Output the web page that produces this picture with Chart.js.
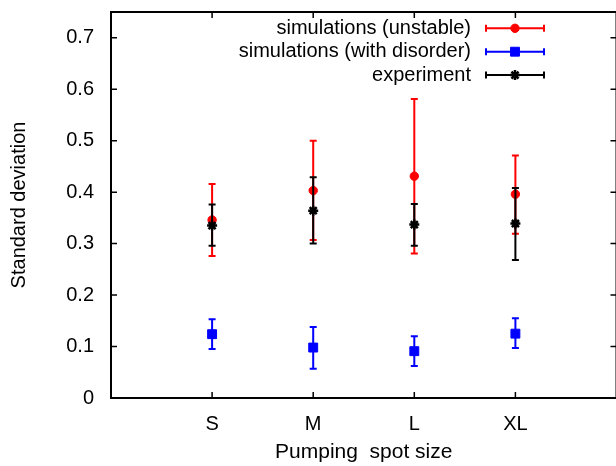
<!DOCTYPE html>
<html><head><meta charset="utf-8">
<script src="https://cdn.jsdelivr.net/npm/chart.js@4/dist/chart.umd.min.js"></script>
<style>
html,body{margin:0;padding:0;overflow:hidden;background:#fff;width:616px;height:466px}
#wrap{width:624px;height:466px;overflow:visible}
canvas{display:block}
</style>
</head><body><div id="wrap"><canvas id="c" width="624" height="466" style="width:624px;height:466px"></canvas></div>
<script>
const categories = ['S', 'M', 'L', 'XL'];
const seriesLabels = ['simulations (unstable)', 'simulations (with disorder)', 'experiment'];
const unstableMean = [0.346, 0.403, 0.431, 0.396];
const unstableLow  = [0.276, 0.307, 0.281, 0.319];
const unstableHigh = [0.416, 0.500, 0.581, 0.471];
const disorderMean = [0.124, 0.098, 0.091, 0.125];
const disorderLow  = [0.095, 0.057, 0.062, 0.097];
const disorderHigh = [0.153, 0.138, 0.120, 0.155];
const experimentMean = [0.335, 0.364, 0.337, 0.339];
const experimentLow  = [0.296, 0.300, 0.296, 0.268];
const experimentHigh = [0.376, 0.429, 0.377, 0.408];
const yTickValues = [0, 0.1, 0.2, 0.3, 0.4, 0.5, 0.6, 0.7];
const yTickLabels = ['0', '0.1', '0.2', '0.3', '0.4', '0.5', '0.6', '0.7'];
const xTitle = 'Pumping  spot size';
const yTitle = 'Standard deviation';

function build(mean, low, high) {
  return categories.map((c, i) => ({ x: i + 1, y: mean[i], yMin: low[i], yMax: high[i] }));
}

const FONT = 'Liberation Sans, Arial, sans-serif';
Chart.defaults.font.family = FONT;
Chart.defaults.font.size = 20;
Chart.defaults.color = '#000';

const errorBarPlugin = {
  id: 'errbars',
  beforeDatasetDraw(chart, args) {
    const ds = chart.data.datasets[args.index];
    const xs = chart.scales.x, ys = chart.scales.y, ctx = chart.ctx;
    ctx.save();
    ctx.strokeStyle = ds.borderColor;
    ctx.lineWidth = 2;
    ds.data.forEach(p => {
      const x = xs.getPixelForValue(p.x);
      const y1 = ys.getPixelForValue(p.yMin), y2 = ys.getPixelForValue(p.yMax);
      ctx.beginPath();
      ctx.moveTo(x, y1); ctx.lineTo(x, y2);
      ctx.moveTo(x - 3.5, y1); ctx.lineTo(x + 3.5, y1);
      ctx.moveTo(x - 3.5, y2); ctx.lineTo(x + 3.5, y2);
      ctx.stroke();
    });
    ctx.restore();
  },
  afterDraw(chart) {
    const ctx = chart.ctx, a = chart.chartArea, xs = chart.scales.x, ys = chart.scales.y;
    ctx.save();
    ctx.strokeStyle = '#000';
    ctx.lineWidth = 2;
    ctx.beginPath();
    ctx.rect(a.left, a.top, a.right - a.left, a.bottom - a.top);
    ctx.stroke();
    ctx.lineWidth = 1.5;
    ctx.beginPath();
    ys.ticks.forEach(t => {
      const y = ys.getPixelForValue(t.value);
      ctx.moveTo(a.left, y); ctx.lineTo(a.left + 6, y);
      ctx.moveTo(a.right, y); ctx.lineTo(a.right - 6, y);
    });
    xs.ticks.forEach(t => {
      const x = xs.getPixelForValue(t.value);
      ctx.moveTo(x, a.bottom); ctx.lineTo(x, a.bottom - 6);
      ctx.moveTo(x, a.top); ctx.lineTo(x, a.top + 6);
    });
    ctx.stroke();
    // legend
    ctx.font = '20px ' + FONT;
    ctx.textAlign = 'right';
    ctx.textBaseline = 'middle';
    chart.data.datasets.forEach((ds, i) => {
      const y = 28.3 + i * 23.4;
      ctx.fillStyle = '#000';
      ctx.fillText(ds.label, 471, y);
      ctx.strokeStyle = ds.borderColor;
      ctx.lineWidth = 2;
      ctx.beginPath();
      ctx.moveTo(486, y); ctx.lineTo(544, y);
      ctx.moveTo(486, y - 3.5); ctx.lineTo(486, y + 3.5);
      ctx.moveTo(544, y - 3.5); ctx.lineTo(544, y + 3.5);
      ctx.stroke();
      ctx.fillStyle = ds.backgroundColor;
      ctx.lineWidth = ds.borderWidth;
      Chart.helpers.drawPoint(ctx, { pointStyle: ds.pointStyle, radius: ds.pointRadius, borderWidth: ds.borderWidth, rotation: 0 }, 515, y);
    });
    ctx.restore();
  }
};

new Chart(document.getElementById('c'), {
  type: 'scatter',
  data: {
    datasets: [
      { label: seriesLabels[0], data: build(unstableMean, unstableLow, unstableHigh), borderColor: '#ff0000', backgroundColor: '#ff0000', pointStyle: 'circle', pointRadius: 4.2, borderWidth: 1, order: 2 },
      { label: seriesLabels[1], data: build(disorderMean, disorderLow, disorderHigh), borderColor: '#0000ff', backgroundColor: '#0000ff', pointStyle: 'rect', pointRadius: 6.3, borderWidth: 1, order: 1 },
      { label: seriesLabels[2], data: build(experimentMean, experimentLow, experimentHigh), borderColor: '#000000', backgroundColor: '#000000', pointStyle: 'star', pointRadius: 5, borderWidth: 2.5, order: 0 }
    ]
  },
  options: {
    responsive: false,
    maintainAspectRatio: false,
    animation: false,
    events: [],
    layout: { padding: { top: 12, right: ctx => ctx.chart.width - 617, left: 0, bottom: 0 } },
    plugins: { legend: { display: false }, tooltip: { enabled: false } },
    scales: {
      x: {
        type: 'linear', position: 'bottom', min: 0, max: 5,
        grid: { display: false, drawTicks: false }, border: { display: false },
        afterBuildTicks: s => { s.ticks = categories.map((c, i) => ({ value: i + 1 })); },
        afterFit: s => { s.height = 68; s.paddingLeft = 0; s.paddingRight = 0; s.paddingTop = 0; s.paddingBottom = 0; },
        ticks: { padding: 14, color: '#000', font: { size: 20 }, maxRotation: 0, callback: (v, i) => categories[i] },
        title: { display: true, text: xTitle, color: '#000', font: { size: 21 }, padding: { top: 0, bottom: 1 } }
      },
      y: {
        type: 'linear', position: 'left', min: 0, max: 0.75,
        grid: { display: false, drawTicks: false }, border: { display: false },
        afterBuildTicks: s => { s.ticks = yTickValues.map(v => ({ value: v })); },
        afterFit: s => { s.width = 111; s.paddingTop = 0; s.paddingBottom = 0; s.paddingLeft = 0; s.paddingRight = 0; },
        ticks: { padding: 17, color: '#000', font: { size: 20 }, callback: (v, i) => yTickLabels[i] },
        title: { display: true, text: yTitle, color: '#000', font: { size: 20 }, padding: { top: 7, bottom: 0 } }
      }
    }
  },
  plugins: [errorBarPlugin]
});
</script>
</body></html>
